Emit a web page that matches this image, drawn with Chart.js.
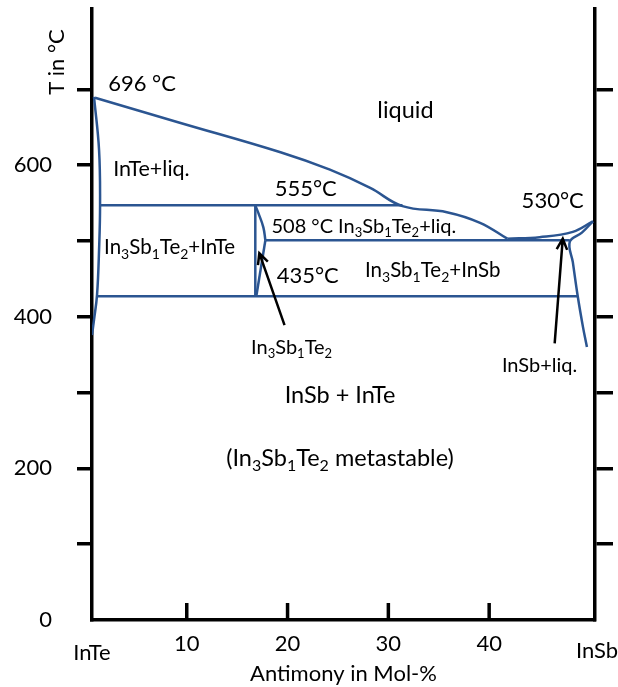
<!DOCTYPE html>
<html>
<head>
<meta charset="utf-8">
<script src="https://cdn.jsdelivr.net/npm/chart.js@4.4.1/dist/chart.umd.min.js"></script>
<style>
  html, body { margin: 0; padding: 0; background: #fff; }
  #wrap { width: 618px; height: 687px; }
</style>
</head>
<body>
<div id="wrap"><canvas id="phase" width="618" height="687"></canvas></div>
<script>
// Phase boundaries, [Sb mol-%, T in °C]
const inTeSolvus = [[0.8, 690], [1.3, 620], [1.4, 548], [1.3, 488], [1.1, 429], [0.8, 396], [0.6, 376]];
const liquidusInTe = [[0.9, 689], [9.3, 656], [19.3, 617], [24.2, 594], [28.2, 570], [31.4, 546], [35.8, 538], [39.1, 524], [41.8, 503]];
const liquidusInSb = [[41.8, 503], [45.0, 505], [48.3, 512], [50.3, 526]];
const inSbSolvus = [[50.3, 526], [49.2, 511], [48.0, 499], [48.3, 472], [48.8, 426], [49.3, 387], [49.7, 360]];
const lensUpper = [[16.8, 547], [17.1, 537], [17.6, 518], [17.8, 501]];
const lensLower = [[17.8, 501], [16.9, 427]];
const line555 = [[1.4, 547], [31.4, 547]];
const line508 = [[17.8, 501], [48.0, 501]];
const line435 = [[1.1, 427], [48.8, 427]];
const compoundLine = [[16.8, 547], [16.8, 427]];

// arrows: [from, to]
const arrows = [
  [[19.7, 389], [17.2, 484]],
  [[46.5, 365], [47.3, 503]],
];

const tempTicks = [0, 100, 200, 300, 400, 500, 600, 700];
const tempLabels = [0, 200, 400, 600];
const molTicks = [10, 20, 30, 40];
const xMin = 0.6, xMax = 50.5, yMax = 806;

// text in the diagram: [text, x, y, align, font size], "_n" = subscript
const notes = [
  ["696 °C", 2.2, 708, "left", 22],
  ["555°C", 21.8, 570, "center", 22],
  ["530°C", 46.3, 554, "center", 22],
  ["435°C", 22.0, 455, "center", 22],
  ["liquid", 31.7, 673, "center", 23.5],
  ["InTe+liq.", 6.5, 596, "center", 21.5],
  ["508 °C In_3Sb_1Te_2+liq.", 18.4, 520, "left", 20],
  ["In_3Sb_1Te_2+InTe", 8.3, 492, "center", 20.5],
  ["In_3Sb_1Te_2+InSb", 34.4, 462, "center", 20.5],
  ["In_3Sb_1Te_2", 20.4, 361, "center", 20],
  ["InSb+liq.", 45.0, 336, "center", 20],
  ["InSb + InTe", 25.2, 297, "center", 23.5],
  ["(In_3Sb_1Te_2 metastable)", 25.2, 214, "center", 23.5],
];

const FONT = "Lato";
const BLUE = "#2b5591";

function pts(arr) {
  return arr.map(([x, y]) => ({ x, y }));
}

function curve(arr, tension) {
  return {
    data: pts(arr),
    showLine: true,
    borderColor: BLUE,
    borderWidth: 2.5,
    pointRadius: 0,
    tension: tension,
    fill: false,
  };
}

// draws text with subscript digits, y is the middle of the capitals
function drawRich(ctx, text, x, y, size, align) {
  const parts = [];
  text.split(/(_\d)/).forEach((p) => {
    if (!p) return;
    if (p[0] === "_") parts.push({ t: p.slice(1), sub: true });
    else parts.push({ t: p, sub: false });
  });
  const subSize = Math.round(size * 0.66);
  let w = 0;
  parts.forEach((p) => {
    ctx.font = (p.sub ? subSize : size) + "px " + FONT;
    p.w = ctx.measureText(p.t).width;
    w += p.w;
  });
  let cx = align === "left" ? x : x - w / 2;
  const base = y + size * 0.36;
  ctx.textAlign = "left";
  ctx.textBaseline = "alphabetic";
  parts.forEach((p) => {
    ctx.font = (p.sub ? subSize : size) + "px " + FONT;
    ctx.fillText(p.t, cx, p.sub ? base + size * 0.22 : base);
    cx += p.w;
  });
}

const notesPlugin = {
  id: "notes",
  afterDraw(chart) {
    const ctx = chart.ctx;
    const xs = chart.scales.x;
    const ys = chart.scales.y;
    ctx.save();
    ctx.fillStyle = "#000";
    ctx.strokeStyle = "#000";

    // inward tick marks on the bottom axis
    ctx.lineWidth = 3.5;
    molTicks.forEach((v) => {
      const px = xs.getPixelForValue(v);
      ctx.beginPath();
      ctx.moveTo(px, ys.bottom);
      ctx.lineTo(px, ys.bottom - 17);
      ctx.stroke();
    });

    notes.forEach(([t, x, y, a, s]) => drawRich(ctx, t, xs.getPixelForValue(x), ys.getPixelForValue(y), s, a));

    // end members under the axis
    drawRich(ctx, "InTe", xs.getPixelForValue(xMin), 652, 22, "center");
    drawRich(ctx, "InSb", xs.getPixelForValue(xMax) + 2, 650, 22, "center");

    // y axis title
    ctx.save();
    ctx.translate(56, 62);
    ctx.rotate(-Math.PI / 2);
    drawRich(ctx, "T in °C", 0, 0, 22, "center");
    ctx.restore();

    // arrows
    ctx.lineWidth = 2.5;
    arrows.forEach(([from, to]) => {
      const x1 = xs.getPixelForValue(from[0]), y1 = ys.getPixelForValue(from[1]);
      const x2 = xs.getPixelForValue(to[0]), y2 = ys.getPixelForValue(to[1]);
      const ang = Math.atan2(y2 - y1, x2 - x1);
      ctx.beginPath();
      ctx.moveTo(x1, y1);
      ctx.lineTo(x2, y2);
      ctx.moveTo(x2 - 12 * Math.cos(ang - 0.45), y2 - 12 * Math.sin(ang - 0.45));
      ctx.lineTo(x2, y2);
      ctx.lineTo(x2 - 12 * Math.cos(ang + 0.45), y2 - 12 * Math.sin(ang + 0.45));
      ctx.stroke();
    });
    ctx.restore();
  },
};

const tickColor = (c) => (c.tick && c.tick.value === 0 ? "rgba(0,0,0,0)" : "#000");

// no label overhang padding, the plot box is fixed
function noPad(s) {
  s.paddingTop = 0;
  s.paddingBottom = 0;
  s.paddingLeft = 0;
  s.paddingRight = 0;
}

new Chart(document.getElementById("phase"), {
  type: "scatter",
  data: {
    datasets: [
      curve(inTeSolvus, 0.4),
      curve(liquidusInTe, 0.4),
      curve(liquidusInSb, 0.4),
      curve(inSbSolvus, 0.4),
      curve(lensUpper, 0.4),
      curve(lensLower, 0),
      curve(line555, 0),
      curve(line508, 0),
      curve(line435, 0),
      curve(compoundLine, 0),
    ],
  },
  options: {
    responsive: false,
    animation: false,
    devicePixelRatio: 1,
    layout: { padding: { top: 9, left: 0, right: 0, bottom: 0 } },
    plugins: { legend: { display: false }, tooltip: { enabled: false } },
    scales: {
      x: {
        type: "linear",
        position: "bottom",
        min: xMin,
        max: xMax,
        afterBuildTicks: (s) => {
          s.ticks = molTicks.map((v) => ({ value: v }));
        },
        afterFit: (s) => {
          s.height = 67;
          noPad(s);
        },
        grid: { drawOnChartArea: false, drawTicks: false },
        border: { color: "#000", width: 3.5 },
        ticks: { color: "#000", font: { family: FONT, size: 22 }, padding: 11, maxRotation: 0, autoSkip: false },
        title: { display: true, text: "Antimony in Mol-%", color: "#000", font: { family: FONT, size: 22 }, padding: 0 },
      },
      y: {
        type: "linear",
        position: "left",
        min: 0,
        max: yMax,
        afterBuildTicks: (s) => {
          s.ticks = tempTicks.map((v) => ({ value: v }));
        },
        afterFit: (s) => {
          s.width = 92;
          noPad(s);
        },
        grid: { drawOnChartArea: false, drawTicks: true, tickLength: 15, lineWidth: 3.5, color: tickColor },
        border: { color: "#000", width: 3.5 },
        ticks: {
          color: "#000",
          font: { family: FONT, size: 22 },
          padding: 25,
          autoSkip: false,
          callback: (v) => (tempLabels.includes(v) ? String(v) : ""),
        },
      },
      y2: {
        type: "linear",
        position: "right",
        min: 0,
        max: yMax,
        afterBuildTicks: (s) => {
          s.ticks = tempTicks.map((v) => ({ value: v }));
        },
        afterFit: (s) => {
          s.width = 23;
          noPad(s);
        },
        grid: { drawOnChartArea: false, drawTicks: true, tickLength: 18, lineWidth: 3.5, color: tickColor },
        border: { color: "#000", width: 3.5 },
        ticks: { autoSkip: false, callback: () => "" },
      },
    },
  },
  plugins: [notesPlugin],
});
</script>
</body>
</html>
